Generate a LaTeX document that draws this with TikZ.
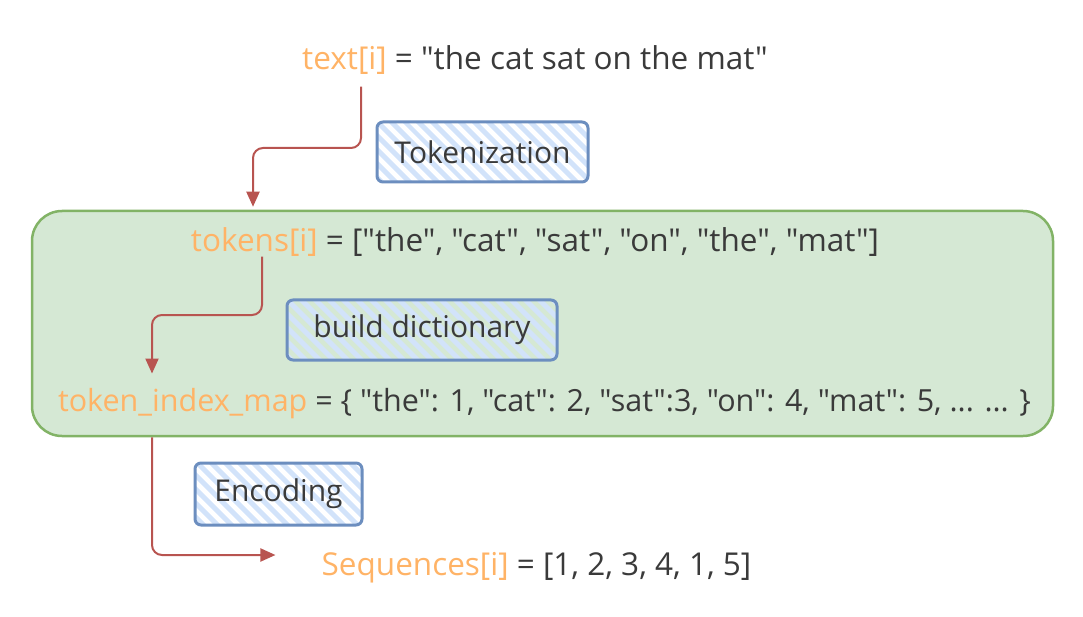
\documentclass[tikz,border=0pt]{standalone}
\usepackage{fontspec}
\setmainfont{Open Sans}[Ligatures=TeXOff]
\usetikzlibrary{arrows.meta,patterns.meta}
\definecolor{ink}{HTML}{3A3A3A}
\definecolor{accent}{HTML}{FFB366}
\definecolor{flow}{HTML}{B85450}
\definecolor{boxline}{HTML}{6C8EBF}
\definecolor{hatch}{HTML}{D2E3FA}
\definecolor{groupfill}{HTML}{D5E8D4}
\definecolor{groupline}{HTML}{82B366}
\begin{document}
\begin{tikzpicture}[x=1pt,y=-1pt,
  linetext/.style={inner sep=0pt, font=\fontsize{31.5}{36}\selectfont, text=ink},
  stage/.style={draw=boxline, line width=3pt, rounded corners=6pt, inner sep=0pt,
    font=\fontsize{30}{34}\selectfont, text=ink,
    pattern={Lines[angle=-45,distance=10.5pt,line width=5.5pt]}, pattern color=hatch},
  groupbox/.style={draw=groupline, fill=groupfill, line width=2.5pt, rounded corners=30pt},
  flowarrow/.style={draw=flow, line width=2pt, rounded corners=10pt,
    -{Triangle[length=15pt,width=13pt]}},
]
\useasboundingbox (0,0) rectangle (1083,617);

% grouping panel for tokens and vocabulary
\node[groupbox, minimum width=1021pt, minimum height=225pt] (grp) at (542.5,323.5) {};

% data lines
\node[linetext] (l1) at (535,60) {\textcolor{accent}{text[i]} = "the cat sat on the mat"};
\node[linetext] (l2) at (535,242) {\textcolor{accent}{tokens[i]} = ["the", "cat", "sat", "on", "the", "mat"]};
\node[linetext, font=\fontsize{30.5}{35}\selectfont] (l3) at (544.5,404) {\textcolor{accent}{token\_index\_map} = \{ "the": 1, "cat": 2, "sat":3, "on": 4, "mat": 5, ... ... \}};
\node[linetext] (l4) at (536.5,568) {\textcolor{accent}{Sequences[i]} = [1, 2, 3, 4, 1, 5]};

% processing steps
\node[stage, minimum width=211pt, minimum height=60pt] (s1) at (482.5,152) {Tokenization};
\node[stage, minimum width=270pt, minimum height=60pt] (s2) at (422,330) {build dictionary};
\node[stage, minimum width=167pt, minimum height=62pt] (s3) at (278.5,494) {Encoding};

% flow arrows
\draw[flowarrow, shorten <=12pt, shorten >=3pt] (l1.south -| 361,0) -- (361,148) -- (253,148) -- (grp.north -| 253,0);
\draw[flowarrow, shorten >=15pt] (l2.south -| 262,0) -- (262,315) -- (152,315) -- (l3.north -| 152,0);
\draw[flowarrow, shorten >=46pt] (grp.south -| 152,0) -- (152,555) -- (l4.west |- 0,555);
\end{tikzpicture}
\end{document}
